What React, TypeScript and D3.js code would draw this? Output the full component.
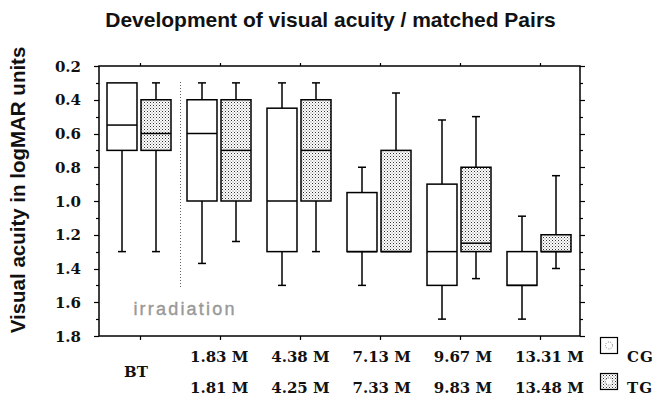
import React from "react";
import * as d3 from "d3";

const groups = ["BT", "1.83 M", "4.38 M", "7.13 M", "9.67 M", "13.31 M"];
const tgLabels = ["", "1.81 M", "4.25 M", "7.33 M", "9.83 M", "13.48 M"];
const series = ["CG", "TG"];

// logMAR values: whisker top (low), box top, median, box bottom, whisker bottom (high)
const cgLow = [0.3, 0.3, 0.3, 0.8, 0.52, 1.09];
const cgQ1 = [0.3, 0.4, 0.45, 0.95, 0.9, 1.3];
const cgMed = [0.55, 0.6, 1.0, 1.3, 1.3, 1.5];
const cgQ3 = [0.7, 1.0, 1.3, 1.3, 1.5, 1.5];
const cgHigh = [1.3, 1.37, 1.5, 1.5, 1.7, 1.7];

const tgLow = [0.3, 0.3, 0.3, 0.36, 0.5, 0.85];
const tgQ1 = [0.4, 0.4, 0.4, 0.7, 0.8, 1.2];
const tgMed = [0.6, 0.7, 0.7, 1.3, 1.25, 1.3];
const tgQ3 = [0.7, 1.0, 1.0, 1.3, 1.3, 1.3];
const tgHigh = [1.3, 1.24, 1.3, 1.3, 1.46, 1.4];

const yTicks = [0.2, 0.4, 0.6, 0.8, 1.0, 1.2, 1.4, 1.6, 1.8];
const yMinor = d3.range(0.2, 1.81, 0.1);

const W = 661, H = 399;
const L = 99, R = 580, T = 66, B = 336;

export default function App() {
  const x = d3.scaleBand<string>().domain(groups).range([L + 1, R]).paddingInner(0).paddingOuter(0);
  const sub = d3.scaleBand<string>().domain(series).range([7, 71]).paddingInner(0.118);
  const y = d3.scaleLinear().domain([0.2, 1.8]).range([T, B]);
  const labelX = d3.scaleLinear().domain([1, 5]).range([190, 515]);

  const data = groups.map((g, i) => [
    { s: "CG", low: cgLow[i], q1: cgQ1[i], med: cgMed[i], q3: cgQ3[i], high: cgHigh[i] },
    { s: "TG", low: tgLow[i], q1: tgQ1[i], med: tgMed[i], q3: tgQ3[i], high: tgHigh[i] },
  ]);

  const serif = "'DejaVu Serif', serif";
  const sans = "'Liberation Sans', Arial, sans-serif";
  const cap = 4;

  return (
    <svg width={W} height={H} style={{ position: "absolute", left: 0, top: 0, background: "#fff" }}>
      <defs>
        <pattern id="dots" width={3} height={3} patternUnits="userSpaceOnUse">
          <rect width={3} height={3} fill="#fff" />
          <rect x={0} y={0} width={1} height={1} fill="#333" />
          <rect x={1.5} y={1.5} width={1} height={1} fill="#777" />
        </pattern>
      </defs>

      <text x={W / 2} y={27} textAnchor="middle" fontFamily={sans} fontWeight="bold" fontSize={21} fill="#111">
        Development of visual acuity / matched Pairs
      </text>

      <text transform={`translate(25, 190) rotate(-90)`} textAnchor="middle" fontFamily={sans} fontWeight="bold" fontSize={20.5} fill="#111">
        Visual acuity in logMAR units
      </text>

      {/* frame */}
      <rect x={L} y={T} width={R - L} height={B - T} fill="none" stroke="#000" strokeWidth={1.5} />

      {/* y ticks left and right */}
      {yMinor.map((v, i) => {
        const major = i % 2 === 0;
        const len = major ? 5 : 3;
        const yy = Math.round(y(v)) + 0.5;
        return (
          <g key={"yt" + i}>
            <line x1={L - len} x2={L} y1={yy} y2={yy} stroke="#000" strokeWidth={1.2} />
            <line x1={R} x2={R + len} y1={yy} y2={yy} stroke="#000" strokeWidth={1.2} />
          </g>
        );
      })}
      {yTicks.map((v) => (
        <text key={"yl" + v} x={81} y={y(v) + 5.5} textAnchor="end" fontFamily={serif} fontWeight="bold" fontSize={15} fill="#111">
          {v.toFixed(1)}
        </text>
      ))}

      {/* x ticks top and bottom */}
      {groups.map((g) => {
        const cx = Math.round(x(g)! + x.bandwidth() / 2) + 0.5;
        return (
          <g key={"xt" + g}>
            <line x1={cx} x2={cx} y1={T - 3} y2={T} stroke="#000" strokeWidth={1.2} />
            <line x1={cx} x2={cx} y1={B} y2={B + 4} stroke="#000" strokeWidth={1.2} />
          </g>
        );
      })}

      {/* irradiation marker */}
      <line x1={180.5} x2={180.5} y1={82} y2={288} stroke="#666" strokeWidth={1} strokeDasharray="1,2" />
      <text x={185} y={315} textAnchor="middle" fontFamily={sans} fontSize={18} letterSpacing={2.2} fill="#999" stroke="#999" strokeWidth={0.4}>
        irradiation
      </text>

      {/* boxes */}
      {data.map((pair, i) =>
        pair.map((d) => {
          const x0 = x(groups[i])! + sub(d.s)!;
          const bw = sub.bandwidth();
          const cx = x0 + bw / 2;
          return (
            <g key={groups[i] + d.s}>
              {d.low < d.q1 && (
                <>
                  <line x1={cx} x2={cx} y1={y(d.low)} y2={y(d.q1)} stroke="#000" strokeWidth={1.5} />
                  <line x1={cx - cap} x2={cx + cap} y1={y(d.low)} y2={y(d.low)} stroke="#000" strokeWidth={1.5} />
                </>
              )}
              {d.high > d.q3 && (
                <>
                  <line x1={cx} x2={cx} y1={y(d.q3)} y2={y(d.high)} stroke="#000" strokeWidth={1.5} />
                  <line x1={cx - cap} x2={cx + cap} y1={y(d.high)} y2={y(d.high)} stroke="#000" strokeWidth={1.5} />
                </>
              )}
              <rect x={x0} y={y(d.q1)} width={bw} height={y(d.q3) - y(d.q1)} fill={d.s === "TG" ? "url(#dots)" : "#fff"} stroke="#000" strokeWidth={1.5} />
              <line x1={x0} x2={x0 + bw} y1={y(d.med)} y2={y(d.med)} stroke="#000" strokeWidth={1.5} />
            </g>
          );
        })
      )}

      {/* x labels */}
      <text x={x("BT")! + x.bandwidth() / 2 - 4} y={377} textAnchor="middle" fontFamily={serif} fontWeight="bold" fontSize={15} fill="#111">
        BT
      </text>
      {groups.slice(1).map((g, i) => (
        <text key={"l1" + g} x={labelX(i + 1)} y={362} fontFamily={serif} fontWeight="bold" fontSize={15} fill="#111">
          {g}
        </text>
      ))}
      {tgLabels.slice(1).map((g, i) => (
        <text key={"l2" + g} x={labelX(i + 1)} y={393} fontFamily={serif} fontWeight="bold" fontSize={15} fill="#111">
          {g}
        </text>
      ))}

      {/* legend */}
      <rect x={600.5} y={337.5} width={17} height={16} fill="#fff" stroke="#000" strokeWidth={1.2} />
      <circle cx={609} cy={345.5} r={3.5} fill="none" stroke="#777" strokeWidth={1} strokeDasharray="1,1.5" />
      <text x={627} y={362} fontFamily={serif} fontWeight="bold" fontSize={15} letterSpacing={1} fill="#111">CG</text>
      <rect x={600.5} y={373.5} width={17} height={16} fill="url(#dots)" stroke="#000" strokeWidth={1.2} />
      <circle cx={609} cy={381.5} r={3.5} fill="#fff" stroke="#777" strokeWidth={1} strokeDasharray="1,1.5" />
      <text x={627} y={393} fontFamily={serif} fontWeight="bold" fontSize={15} letterSpacing={1} fill="#111">TG</text>
    </svg>
  );
}
